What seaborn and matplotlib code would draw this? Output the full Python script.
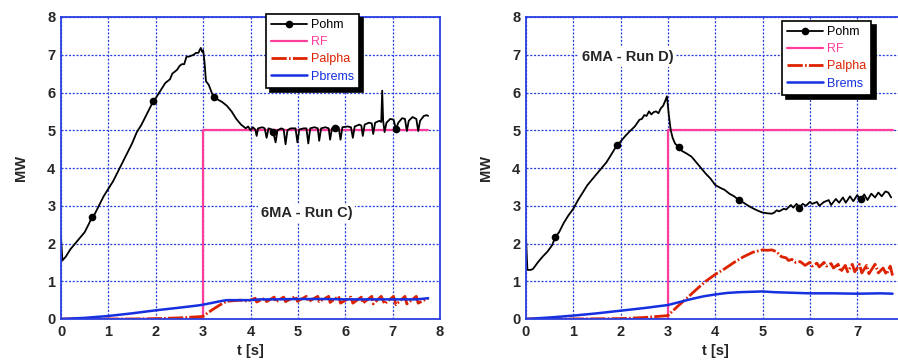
import numpy as np
import pandas as pd
import matplotlib
matplotlib.use("Agg")
import matplotlib.pyplot as plt
import seaborn as sns

# ---------------- data: Run C (left) ----------------
c_pohm_t = [0.00, 0.03, 0.10, 0.20, 0.30, 0.40, 0.50, 0.60, 0.65, 0.70, 0.80, 0.90, 1.00, 1.10, 1.20,
            1.30, 1.40, 1.50, 1.60, 1.70, 1.80, 1.90, 1.94, 2.00, 2.10, 2.20, 2.30, 2.35, 2.45, 2.50,
            2.55, 2.60, 2.65, 2.70, 2.80, 2.85, 2.90, 2.95, 2.98, 3.00, 3.03, 3.06, 3.12, 3.18, 3.22,
            3.30, 3.40, 3.50, 3.60, 3.70, 3.80, 3.90, 3.95, 4.00, 4.05, 4.10, 4.13, 4.16, 4.25, 4.30,
            4.34, 4.38, 4.45, 4.48, 4.53, 4.57, 4.65, 4.70, 4.74, 4.78, 4.85, 4.95, 4.99, 5.03, 5.12,
            5.18, 5.22, 5.26, 5.35, 5.42, 5.45, 5.49, 5.58, 5.65, 5.68, 5.72, 5.78, 5.86, 5.90, 5.94,
            6.05, 6.12, 6.16, 6.20, 6.30, 6.34, 6.37, 6.41, 6.50, 6.56, 6.59, 6.63, 6.72, 6.76, 6.78,
            6.80, 6.83, 6.87, 6.95, 7.02, 7.07, 7.12, 7.20, 7.26, 7.30, 7.34, 7.42, 7.50, 7.54, 7.58,
            7.66, 7.72, 7.75]
c_pohm_v = [2.15, 1.55, 1.65, 1.85, 2.00, 2.15, 2.30, 2.55, 2.70, 2.75, 3.00, 3.25, 3.45, 3.65, 3.90,
            4.15, 4.40, 4.65, 4.95, 5.15, 5.40, 5.65, 5.78, 5.85, 6.05, 6.25, 6.35, 6.50, 6.60, 6.70,
            6.75, 6.75, 6.95, 6.95, 7.00, 7.05, 7.05, 7.18, 7.08, 7.12, 6.80, 6.30, 6.20, 6.00, 5.88,
            5.82, 5.75, 5.65, 5.50, 5.30, 5.15, 5.05, 5.10, 5.00, 5.08, 5.02, 4.85, 5.05, 5.08, 5.05,
            4.80, 5.05, 5.02, 4.95, 4.68, 5.00, 5.05, 5.02, 4.63, 5.00, 5.05, 5.05, 4.68, 5.02, 5.05,
            5.05, 4.65, 5.05, 5.08, 5.05, 4.72, 5.05, 5.08, 5.05, 4.75, 5.05, 5.05, 5.08, 4.75, 5.08,
            5.10, 5.08, 4.80, 5.10, 5.15, 5.12, 4.85, 5.15, 5.20, 5.18, 4.90, 5.20, 5.25, 5.22, 6.05,
            5.25, 4.95, 5.20, 5.30, 5.28, 5.03, 5.20, 5.32, 5.30, 4.98, 5.25, 5.35, 5.30, 4.98, 5.25,
            5.38, 5.40, 5.38]
c_pohm_marks = [0.65, 1.94, 3.22, 4.48, 5.78, 7.07]

c_rf_t = [0.0, 3.0, 3.0, 7.75]
c_rf_v = [0.0, 0.0, 5.0, 5.0]

c_pal_t = [0.0, 0.5, 1.0, 1.5, 2.0, 2.5, 2.9, 3.0, 3.05, 3.2, 3.35, 3.5, 3.6, 3.8, 3.85, 4.0, 4.10,
           4.13, 4.30, 4.34, 4.50, 4.53, 4.70, 4.74, 4.95, 4.99, 5.18, 5.22, 5.42, 5.45, 5.65, 5.68,
           5.86, 5.90, 6.12, 6.16, 6.34, 6.37, 6.56, 6.59, 6.76, 6.83, 7.02, 7.07, 7.26, 7.30, 7.50,
           7.54, 7.75]
c_pal_v = [0.0, 0.0, 0.0, 0.0, 0.01, 0.03, 0.06, 0.07, 0.12, 0.25, 0.37, 0.47, 0.48, 0.50, 0.47, 0.50,
           0.55, 0.45, 0.55, 0.46, 0.58, 0.45, 0.58, 0.46, 0.60, 0.47, 0.60, 0.46, 0.60, 0.46, 0.60,
           0.44, 0.60, 0.42, 0.58, 0.42, 0.58, 0.42, 0.60, 0.40, 0.60, 0.40, 0.60, 0.38, 0.60, 0.40,
           0.60, 0.42, 0.55]

c_brm_t = [0.0, 0.5, 1.0, 1.5, 2.0, 2.5, 2.9, 3.0, 3.2, 3.4, 3.5, 3.7, 4.0, 4.2, 4.5, 5.0, 5.5, 6.0,
           6.5, 7.0, 7.5, 7.75]
c_brm_v = [0.0, 0.03, 0.08, 0.15, 0.23, 0.30, 0.36, 0.38, 0.43, 0.48, 0.50, 0.50, 0.50, 0.52, 0.52,
           0.53, 0.53, 0.52, 0.52, 0.52, 0.52, 0.55]

# ---------------- data: Run D (right) ----------------
d_pohm_t = [0.00, 0.03, 0.10, 0.15, 0.25, 0.35, 0.45, 0.55, 0.62, 0.70, 0.80, 0.90, 1.00, 1.10, 1.20,
            1.30, 1.40, 1.50, 1.60, 1.70, 1.80, 1.92, 2.00, 2.10, 2.20, 2.30, 2.40, 2.45, 2.50, 2.55,
            2.60, 2.65, 2.70, 2.75, 2.80, 2.85, 2.90, 2.95, 2.98, 3.02, 3.06, 3.10, 3.15, 3.23, 3.30,
            3.40, 3.50, 3.60, 3.70, 3.80, 3.90, 4.00, 4.10, 4.20, 4.30, 4.40, 4.50, 4.60, 4.70, 4.80,
            4.90, 5.00, 5.10, 5.20, 5.25, 5.30, 5.35, 5.45, 5.50, 5.60, 5.65, 5.72, 5.78, 5.85, 5.92,
            6.00, 6.05, 6.15, 6.20, 6.30, 6.40, 6.45, 6.55, 6.62, 6.70, 6.76, 6.85, 6.92, 7.00, 7.08,
            7.15, 7.22, 7.30, 7.38, 7.45, 7.52, 7.60, 7.66, 7.72]
d_pohm_v = [2.15, 1.30, 1.30, 1.33, 1.50, 1.65, 1.78, 1.95, 2.17, 2.30, 2.55, 2.75, 2.92, 3.15, 3.35,
            3.55, 3.70, 3.85, 4.00, 4.15, 4.35, 4.60, 4.70, 4.85, 4.98, 5.10, 5.28, 5.30, 5.40, 5.38,
            5.50, 5.42, 5.48, 5.50, 5.45, 5.58, 5.65, 5.80, 5.90, 5.40, 5.00, 4.80, 4.65, 4.55, 4.45,
            4.38, 4.30, 4.15, 4.00, 3.85, 3.72, 3.55, 3.48, 3.42, 3.32, 3.25, 3.15, 3.08, 3.00, 2.93,
            2.87, 2.82, 2.80, 2.79, 2.82, 2.88, 2.85, 2.92, 2.90, 3.02, 2.95, 3.05, 2.95, 3.05, 3.00,
            3.10, 3.05, 3.10, 3.00, 3.10, 3.15, 3.02, 3.18, 3.08, 3.22, 3.08, 3.25, 3.12, 3.28, 3.17,
            3.30, 3.15, 3.32, 3.22, 3.35, 3.25, 3.38, 3.35, 3.22]
d_pohm_marks = [0.62, 1.92, 3.23, 4.50, 5.78, 7.08]

d_rf_t = [0.0, 3.0, 3.0, 7.75]
d_rf_v = [0.0, 0.0, 5.0, 5.0]

d_pal_t = [0.0, 1.0, 2.0, 2.5, 2.9, 3.0, 3.05, 3.2, 3.4, 3.6, 3.8, 4.0, 4.2, 4.4, 4.6, 4.8, 5.0, 5.1,
           5.2, 5.3, 5.4, 5.5, 5.55, 5.62, 5.7, 5.8, 5.9, 6.0, 6.05, 6.15, 6.20, 6.30, 6.35, 6.45,
           6.50, 6.60, 6.65, 6.75, 6.80, 6.90, 6.95, 7.05, 7.10, 7.20, 7.25, 7.38, 7.45, 7.55, 7.62,
           7.70, 7.75]
d_pal_v = [0.0, 0.0, 0.01, 0.04, 0.08, 0.09, 0.15, 0.33, 0.55, 0.78, 1.00, 1.18, 1.33, 1.50, 1.65,
           1.77, 1.83, 1.82, 1.83, 1.78, 1.65, 1.62, 1.55, 1.58, 1.50, 1.52, 1.42, 1.50, 1.40, 1.48,
           1.38, 1.50, 1.40, 1.47, 1.35, 1.45, 1.25, 1.42, 1.25, 1.45, 1.25, 1.45, 1.22, 1.42, 1.20,
           1.45, 1.22, 1.35, 1.18, 1.40, 1.15]

d_brm_t = [0.0, 0.5, 1.0, 1.5, 2.0, 2.5, 3.0, 3.25, 3.5, 3.75, 4.0, 4.25, 4.5, 4.75, 5.0, 5.25, 5.5,
           6.0, 6.5, 7.0, 7.5, 7.75]
d_brm_v = [0.0, 0.04, 0.09, 0.15, 0.22, 0.29, 0.37, 0.45, 0.53, 0.60, 0.65, 0.69, 0.71, 0.72, 0.73,
           0.71, 0.70, 0.68, 0.68, 0.67, 0.68, 0.67]

x_ticks_left = [0, 1, 2, 3, 4, 5, 6, 7, 8]
x_ticks_right = [0, 1, 2, 3, 4, 5, 6, 7]
y_ticks = [0, 1, 2, 3, 4, 5, 6, 7, 8]

# ---------------- styling ----------------
sns.set_style("white")
plt.rcParams["font.family"] = ["Liberation Sans", "DejaVu Sans"]
plt.rcParams["lines.scale_dashes"] = False

BLACK = "#000000"
PINK = "#ff3d9a"
RED = "#dd2200"
BLUE = "#1530e0"
GRID = "#2a3fe0"

fig = plt.figure(figsize=(8.98, 3.6), dpi=100)
ax1 = fig.add_axes([61 / 898, 41 / 360, 379 / 898, 302 / 360])
ax2 = fig.add_axes([526 / 898, 41 / 360, 378.4 / 898, 302 / 360])


def panel(ax, pohm_t, pohm_v, marks, rf_t, rf_v, pal_t, pal_v, brm_t, brm_v, brems_label,
          title, title_xy, leg_anchor, xticks):
    sns.lineplot(x=rf_t, y=rf_v, ax=ax, color=PINK, lw=1.6, sort=False, estimator=None)
    l_rf = ax.lines[-1]
    sns.lineplot(x=pal_t, y=pal_v, ax=ax, color=RED, lw=2.0, sort=False, estimator=None)
    l_pal = ax.lines[-1]
    l_pal.set_dashes((11, 1.6, 1.2, 1.6))
    sns.lineplot(x=brm_t, y=brm_v, ax=ax, color=BLUE, lw=1.8, sort=False, estimator=None)
    l_brm = ax.lines[-1]
    idx = [int(np.argmin(np.abs(np.array(pohm_t) - m))) for m in marks]
    sns.lineplot(x=pohm_t, y=pohm_v, ax=ax, color=BLACK, lw=1.3, sort=False, estimator=None,
                 marker="o", markersize=5.5, markevery=idx, markeredgewidth=0)
    l_ohm = ax.lines[-1]

    ax.set_xlim(0, 8)
    ax.set_ylim(0, 8)
    ax.set_xticks(xticks)
    ax.set_yticks(y_ticks)
    ax.grid(True, color=GRID, linestyle=(0, (1.5, 1.2)), linewidth=0.9)
    ax.set_axisbelow(True)
    for s in ax.spines.values():
        s.set_color(GRID)
        s.set_linewidth(1.3)
        s.set_visible(True)
    ax.tick_params(axis="both", direction="in", length=3, color=GRID, labelsize=10.5, pad=4)
    for lab in ax.get_xticklabels() + ax.get_yticklabels():
        lab.set_fontweight("bold")
    ax.set_xlabel("t [s]", fontsize=10.5, fontweight="bold", labelpad=4)
    ax.set_ylabel("MW", fontsize=10.5, fontweight="bold", labelpad=14)

    ax.text(title_xy[0], title_xy[1], title, fontsize=10.5, fontweight="bold", ha="left",
            va="center", bbox=dict(facecolor="white", edgecolor="none", pad=2), zorder=3)

    leg = ax.legend([l_ohm, l_rf, l_pal, l_brm], ["Pohm", "RF", "Palpha", brems_label],
                    loc="upper left", bbox_to_anchor=leg_anchor, fontsize=9, frameon=True,
                    fancybox=False, shadow={"ox": 3, "oy": -3, "color": "black", "alpha": 1},
                    edgecolor="black", handlelength=2.9, borderpad=0.4, labelspacing=0.42,
                    handletextpad=0.3, borderaxespad=0)
    leg.get_frame().set_linewidth(1.2)
    leg.set_zorder(5)
    for txt, col in zip(leg.get_texts(), [BLACK, PINK, RED, BLUE]):
        txt.set_color(col)


panel(ax1, c_pohm_t, c_pohm_v, c_pohm_marks, c_rf_t, c_rf_v, c_pal_t, c_pal_v, c_brm_t, c_brm_v,
      "Pbrems", "6MA - Run C)", (4.22, 2.8), (0.541, 1.01), x_ticks_left)
panel(ax2, d_pohm_t, d_pohm_v, d_pohm_marks, d_rf_t, d_rf_v, d_pal_t, d_pal_v, d_brm_t, d_brm_v,
      "Brems", "6MA - Run D)", (1.18, 6.94), (0.677, 0.987), x_ticks_right)

fig.savefig("out.png", dpi=100)
